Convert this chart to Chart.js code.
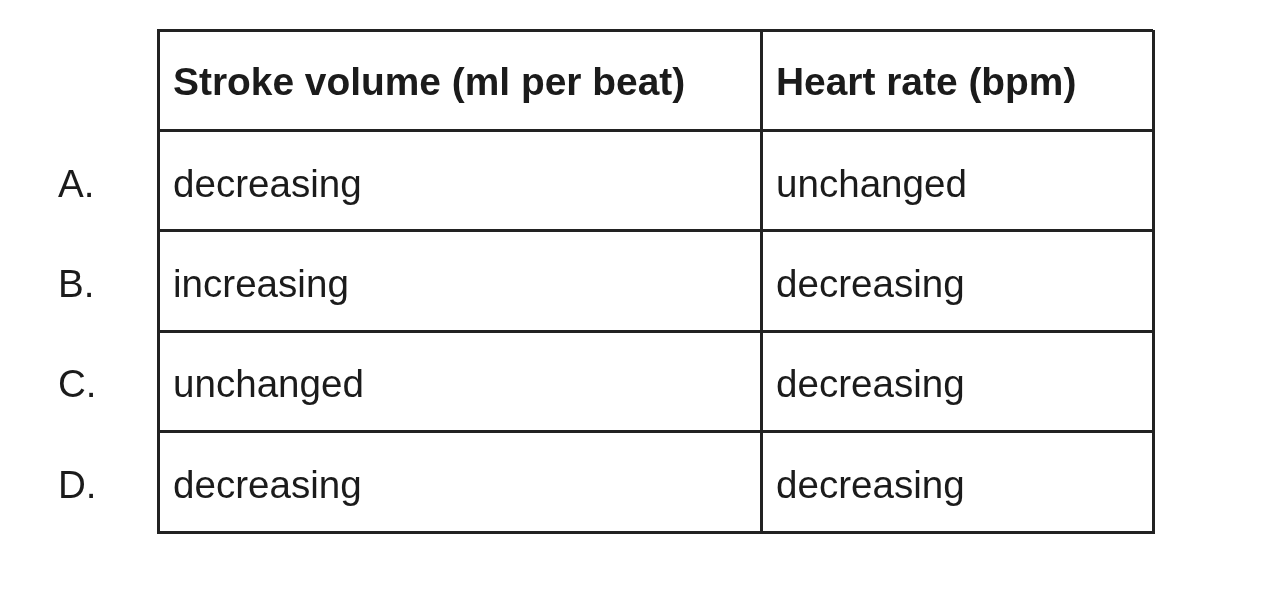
<!DOCTYPE html>
<html>
<head>
<meta charset="utf-8">
<script src="https://cdn.jsdelivr.net/npm/chart.js@4/dist/chart.umd.min.js"></script>
<style>
  html, body { margin: 0; padding: 0; background: #fff; }
  #wrap { width: 1267px; height: 609px; }
</style>
</head>
<body>
<div id="wrap"><canvas id="table"></canvas></div>
<script>
// table content
const columnHeaders = ['Stroke volume (ml per beat)', 'Heart rate (bpm)'];
const optionLabels = ['A.', 'B.', 'C.', 'D.'];
const strokeVolume = ['decreasing', 'increasing', 'unchanged', 'decreasing'];
const heartRate = ['unchanged', 'decreasing', 'decreasing', 'decreasing'];

// layout (column widths in px, the rows are all equal)
const columnWidths = [603, 392];
const lineColor = '#222';
const textColor = '#1b1b1b';
const fontFamily = '"Liberation Sans", Arial, Helvetica, sans-serif';

const columnEdges = columnWidths.reduce((acc, w) => acc.concat(acc[acc.length - 1] + w), [0]);
const rowCount = optionLabels.length + 1;

const cellText = {
    id: 'cellText',
    afterDraw(chart) {
        const { ctx, scales: { x, y } } = chart;
        const cols = [strokeVolume, heartRate];
        ctx.save();
        ctx.fillStyle = textColor;
        ctx.textAlign = 'left';
        ctx.textBaseline = 'alphabetic';

        // header row
        ctx.font = 'bold 38.9px ' + fontFamily;
        columnHeaders.forEach((label, c) => {
            const px = x.getPixelForValue(columnEdges[c]) + 15;
            const py = y.getPixelForValue(0.5) + 15;
            ctx.fillText(label, px, py);
        });

        // body rows
        ctx.font = '38.6px ' + fontFamily;
        optionLabels.forEach((opt, r) => {
            const py = y.getPixelForValue(r + 1.5) + 16;
            ctx.fillText(opt, x.left - 100, py);
            cols.forEach((col, c) => {
                const px = x.getPixelForValue(columnEdges[c]) + 15;
                ctx.fillText(col[r], px, py);
            });
        });
        ctx.restore();
    }
};

new Chart(document.getElementById('table'), {
    type: 'scatter',
    data: { datasets: [{ data: [] }] },
    options: {
        responsive: true,
        maintainAspectRatio: false,
        animation: false,
        events: [],
        layout: { padding: { left: 158, right: 114, top: 30, bottom: 77 } },
        plugins: {
            legend: { display: false },
            tooltip: { enabled: false },
        },
        scales: {
            x: {
                type: 'linear',
                min: 0,
                max: columnEdges[columnEdges.length - 1],
                afterBuildTicks: (scale) => {
                    scale.ticks = columnEdges.map((v) => ({ value: v }));
                },
                ticks: { display: false },
                grid: { color: lineColor, lineWidth: 3, drawTicks: false },
                border: { display: true, color: lineColor, width: 3 },
            },
            y: {
                type: 'linear',
                reverse: true,
                min: 0,
                max: rowCount,
                ticks: { display: false, stepSize: 1 },
                grid: { color: lineColor, lineWidth: 3, drawTicks: false },
                border: { display: true, color: lineColor, width: 3 },
            },
        },
    },
    plugins: [cellText],
});
</script>
</body>
</html>
